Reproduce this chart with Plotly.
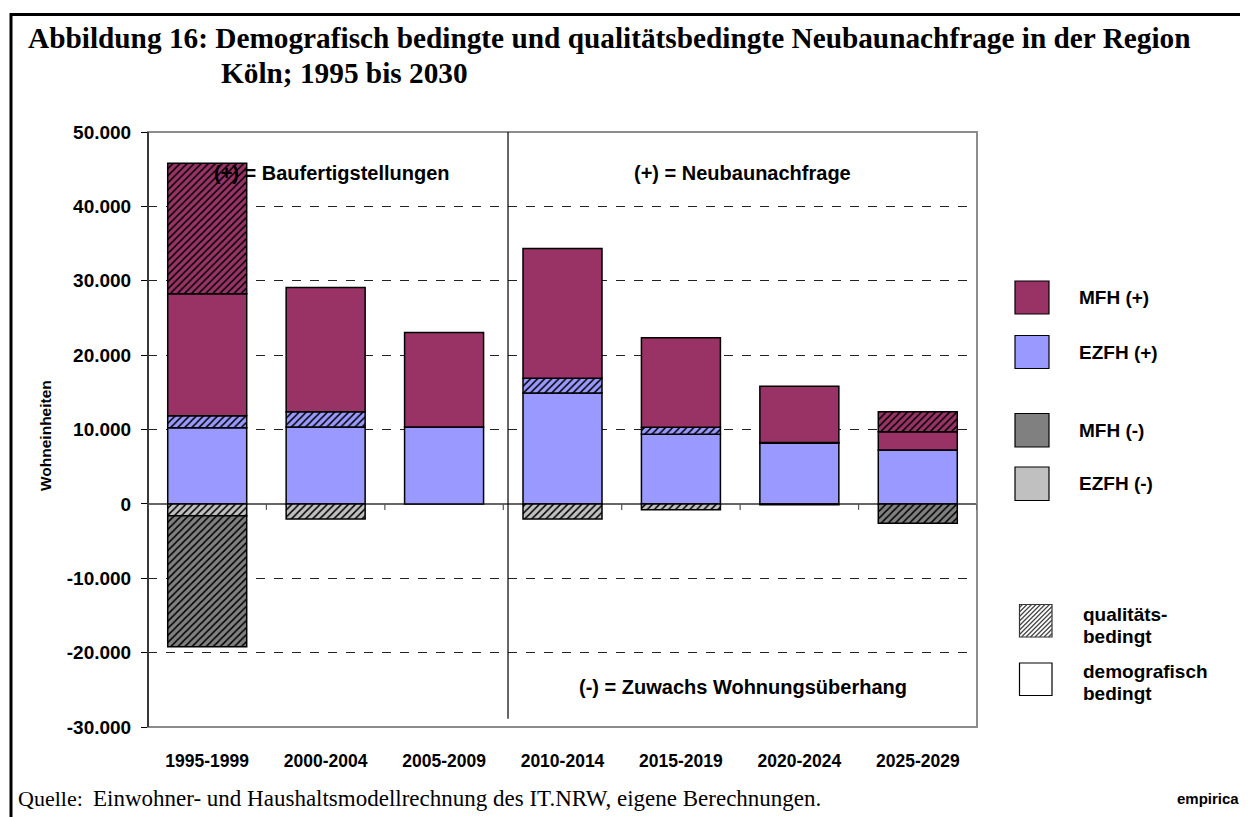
import plotly.graph_objects as go

# ---------------- data ----------------
categories = ["1995-1999", "2000-2004", "2005-2009", "2010-2014", "2015-2019", "2020-2024", "2025-2029"]
ezfh_demo = [10250, 10350, 10350, 14900, 9350, 8150, 7250]
ezfh_qual = [1600, 2050, 0, 2000, 950, 100, 0]
mfh_demo = [16400, 16700, 12700, 17450, 12050, 7550, 2450]
mfh_qual = [17550, 0, 0, 0, 0, 0, 2700]
ezfh_neg_demo = [0, 0, 0, 0, 0, -120, 0]
ezfh_neg_qual = [-1600, -2050, 0, -2050, -800, 0, 0]
mfh_neg_qual = [-17600, 0, 0, 0, 0, 0, -2600]

y_ticks = [-30000, -20000, -10000, 0, 10000, 20000, 30000, 40000, 50000]
y_range = [-30000, 50000]

C_MFH_P = "#993366"
C_EZFH_P = "#9999FF"
C_MFH_N = "#808080"
C_EZFH_N = "#C0C0C0"

# ---------------- geometry helpers (decoration only) ----------------
OFF = 8  # page body margin of the html page
W_FIG, H_FIG = 1248 - OFF, 817 - OFF
L, R, T, B = 148, 977, 132, 727  # plot area in screen pixels
PW, PH = R - L, B - T


def px(x):
    return (x - L) / PW


def py(y):
    return (B - y) / PH


def nz(vals):
    return [v if v else None for v in vals]


fig = go.Figure()


def add_bar(name, vals, color, hatched):
    pattern = dict(shape="/", fgcolor="black", bgcolor=color, size=5,
                   solidity=0.3, fillmode="replace") if hatched else dict(shape="")
    fig.add_trace(go.Bar(
        x=categories, y=nz(vals), name=name,
        marker=dict(color=color, line=dict(color="black", width=1.5), pattern=pattern),
        showlegend=False, hoverinfo="x+y+name",
    ))


add_bar("EZFH (+) demografisch", ezfh_demo, C_EZFH_P, False)
add_bar("EZFH (+) qualitätsbedingt", ezfh_qual, C_EZFH_P, True)
add_bar("MFH (+) demografisch", mfh_demo, C_MFH_P, False)
add_bar("MFH (+) qualitätsbedingt", mfh_qual, C_MFH_P, True)
add_bar("EZFH (-) demografisch", ezfh_neg_demo, C_EZFH_N, False)
add_bar("EZFH (-) qualitätsbedingt", ezfh_neg_qual, C_EZFH_N, True)
add_bar("MFH (-) qualitätsbedingt", mfh_neg_qual, C_MFH_N, True)

SANS = "Liberation Sans, Arial, sans-serif"
SERIF = "Liberation Serif, Times New Roman, serif"

shapes = []
annotations = []

# outer frame
shapes.append(dict(type="rect", xref="paper", yref="paper",
                   x0=px(11), x1=px(1262), y0=py(830), y1=py(14.5),
                   line=dict(color="black", width=3), fillcolor="rgba(0,0,0,0)", layer="below"))
# plot frame (top/right/bottom gray)
shapes.append(dict(type="rect", xref="paper", yref="paper", x0=0, x1=1, y0=0, y1=1,
                   line=dict(color="#8c8c8c", width=2), fillcolor="rgba(0,0,0,0)", layer="above"))
# left axis line
shapes.append(dict(type="line", xref="paper", yref="paper", x0=0, x1=0, y0=0, y1=1,
                   line=dict(color="black", width=1.2), layer="above"))
# zero-line tick marks at category boundaries
for k in range(len(categories) + 1):
    shapes.append(dict(type="line", xref="x", yref="y", ysizemode="pixel", yanchor=0,
                       x0=k - 0.5, x1=k - 0.5, y0=0, y1=-6,
                       line=dict(color="#555555", width=1.2)))
# separator between history and projection
shapes.append(dict(type="line", xref="x", yref="y", x0=2.54, x1=2.54, y0=-28900, y1=50000,
                   line=dict(color="black", width=1.2), layer="above"))

# ---------------- legend (custom) ----------------
legend_items = [
    ("MFH (+)", C_MFH_P, 281, 314),
    ("EZFH (+)", C_EZFH_P, 335.5, 368.5),
    ("MFH (-)", C_MFH_N, 413.5, 447),
    ("EZFH (-)", C_EZFH_N, 467, 500.5),
]
for label, color, y0, y1 in legend_items:
    shapes.append(dict(type="rect", xref="paper", yref="paper",
                       x0=px(1015), x1=px(1049), y0=py(y1), y1=py(y0),
                       fillcolor=color, line=dict(color="black", width=1.2)))
    annotations.append(dict(xref="paper", yref="paper", x=px(1077), y=py((y0 + y1) / 2),
                            text=label, showarrow=False, xanchor="left", yanchor="middle",
                            font=dict(family=SANS, size=19, color="black", weight="bold")))

# hatched swatch
hx0, hx1, hy0, hy1 = 1019.5, 1052, 604.5, 637
shapes.append(dict(type="rect", xref="paper", yref="paper",
                   x0=px(hx0), x1=px(hx1), y0=py(hy1), y1=py(hy0),
                   fillcolor="white", line=dict(color="#333333", width=1.2)))
c = hx0 + hy0 + 3
while c < hx1 + hy1:
    xa = max(hx0, c - hy1)
    xb = min(hx1, c - hy0)
    if xb > xa:
        shapes.append(dict(type="line", xref="paper", yref="paper",
                           x0=px(xa), y0=py(c - xa), x1=px(xb), y1=py(c - xb),
                           line=dict(color="#444444", width=1.3)))
    c += 4.5
# plain swatch
shapes.append(dict(type="rect", xref="paper", yref="paper",
                   x0=px(1019.5), x1=px(1052), y0=py(695.5), y1=py(663),
                   fillcolor="white", line=dict(color="black", width=1.2)))
for text, yy in [("qualitäts-", 614.5), ("bedingt", 636.5), ("demografisch", 671.5), ("bedingt", 693.5)]:
    annotations.append(dict(xref="paper", yref="paper", x=px(1081), y=py(yy), text=text,
                            showarrow=False, xanchor="left", yanchor="middle",
                            font=dict(family=SANS, size=19, color="black", weight="bold")))

# ---------------- texts ----------------
annotations += [
    dict(xref="paper", yref="paper", x=px(26), y=py(38), text="Abbildung 16: Demografisch bedingte und qualitätsbedingte Neubaunachfrage in der Region",
         showarrow=False, xanchor="left", yanchor="middle",
         font=dict(family=SERIF, size=29.3, color="black", weight="bold")),
    dict(xref="paper", yref="paper", x=px(219), y=py(73), text="Köln; 1995 bis 2030",
         showarrow=False, xanchor="left", yanchor="middle",
         font=dict(family=SERIF, size=29.3, color="black", weight="bold")),
    dict(xref="paper", yref="paper", x=px(16), y=py(798), text="Quelle:",
         showarrow=False, xanchor="left", yanchor="middle",
         font=dict(family=SERIF, size=22, color="black")),
    dict(xref="paper", yref="paper", x=px(91), y=py(798),
         text="Einwohner- und Haushaltsmodellrechnung des IT.NRW, eigene Berechnungen.",
         showarrow=False, xanchor="left", yanchor="middle",
         font=dict(family=SERIF, size=23, color="black")),
    dict(xref="paper", yref="paper", x=px(1241), y=py(798), text="empirica",
         showarrow=False, xanchor="right", yanchor="middle",
         font=dict(family=SANS, size=15, color="black", weight="bold")),
    dict(xref="paper", yref="paper", x=px(331.5), y=py(173), text="(+) = Baufertigstellungen",
         showarrow=False, xanchor="center", yanchor="middle",
         font=dict(family=SANS, size=20, color="black", weight="bold")),
    dict(xref="paper", yref="paper", x=px(742.5), y=py(173), text="(+) = Neubaunachfrage",
         showarrow=False, xanchor="center", yanchor="middle",
         font=dict(family=SANS, size=20, color="black", weight="bold")),
    dict(xref="paper", yref="paper", x=px(743), y=py(687), text="(-) = Zuwachs Wohnungsüberhang",
         showarrow=False, xanchor="center", yanchor="middle",
         font=dict(family=SANS, size=20, color="black", weight="bold")),
    dict(xref="paper", yref="paper", x=px(45), y=py(436), text="Wohneinheiten",
         showarrow=False, xanchor="center", yanchor="middle", textangle=-90,
         font=dict(family=SANS, size=15.5, color="black", weight="bold")),
]

fig.update_layout(
    width=W_FIG, height=H_FIG,
    margin=dict(l=L - OFF, r=W_FIG - (R - OFF), t=T - OFF, b=H_FIG - (B - OFF), autoexpand=False),
    paper_bgcolor="white", plot_bgcolor="white",
    barmode="relative", bargap=0.333,
    shapes=shapes, annotations=annotations,
    showlegend=False,
    xaxis=dict(
        categoryorder="array", categoryarray=categories,
        range=[-0.5, len(categories) - 0.5],
        showgrid=False, showline=False, zeroline=False,
        ticks="outside", ticklen=18, tickcolor="rgba(0,0,0,0)",
        tickfont=dict(family=SANS, size=17.5, color="black", weight="bold"),
    ),
    yaxis=dict(
        range=y_range, tickvals=y_ticks,
        ticktext=[f"{v:,}".replace(",", ".") for v in y_ticks],
        showgrid=True, gridcolor="#222222", griddash="dash", gridwidth=1,
        zeroline=True, zerolinecolor="#666666", zerolinewidth=1.5,
        showline=False, ticks="outside", ticklen=6, tickcolor="black", tickwidth=1.2,
        ticklabelstandoff=6,
        tickfont=dict(family=SANS, size=19, color="black", weight="bold"),
    ),
)

fig.write_html("out.html")
